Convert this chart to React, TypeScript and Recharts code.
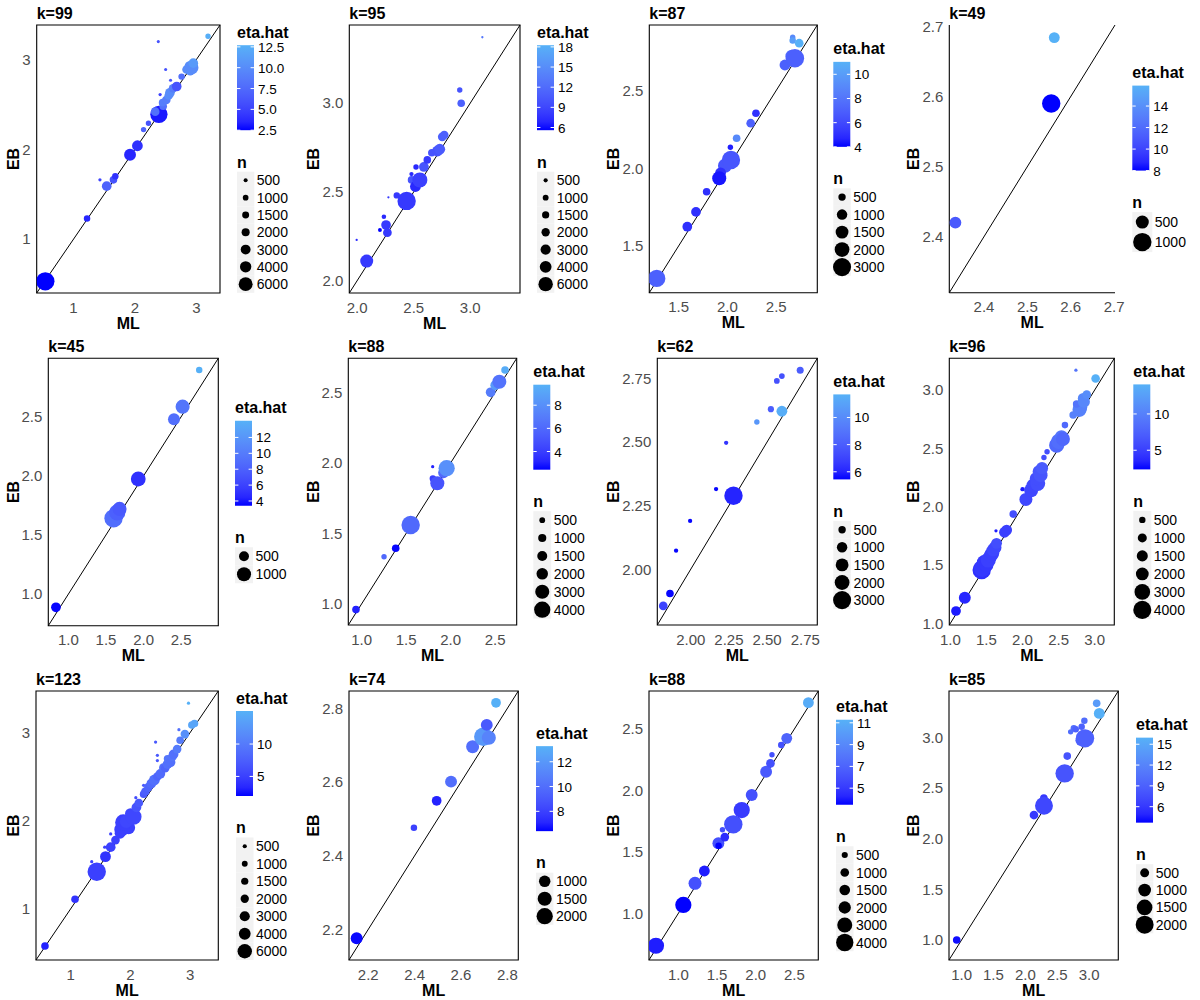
import React from "react";
import {
  ScatterChart,
  Scatter,
  XAxis,
  YAxis,
  ZAxis,
  Cell,
  ReferenceLine,
  ReferenceArea,
} from "recharts";

// [ML, EB, n, eta.hat]
type Pt = [number, number, number, number];

const ptsK99: Pt[] = [
  [0.54, 0.53, 10500, 2.5], [1.22, 1.23, 1300, 3.5], [1.43, 1.66, 330, 5],
  [1.54, 1.59, 2900, 7], [1.65, 1.66, 1800, 6], [1.68, 1.7, 1300, 4],
  [1.92, 1.94, 4400, 3.5], [2.04, 2.04, 3600, 4], [2.14, 2.22, 900, 7],
  [2.22, 2.29, 900, 6], [2.39, 2.39, 9300, 3], [2.33, 2.42, 2300, 8],
  [2.41, 2.61, 330, 5], [2.38, 3.2, 300, 6], [2.5, 2.89, 300, 6],
  [2.58, 2.77, 300, 6], [2.46, 2.48, 1800, 8], [2.45, 2.52, 1800, 9],
  [2.51, 2.55, 2300, 9], [2.55, 2.6, 2300, 10], [2.57, 2.63, 2900, 10],
  [2.62, 2.68, 2300, 9], [2.68, 2.7, 2900, 6], [2.76, 2.81, 1300, 8],
  [2.84, 2.89, 2300, 10], [2.88, 2.93, 2300, 10.5], [2.9, 2.87, 2300, 10],
  [2.92, 2.91, 6100, 10], [2.95, 2.96, 2900, 11], [3.19, 3.26, 900, 12.5],
];
const ptsK95: Pt[] = [
  [2.084, 2.11, 4900, 8], [1.995, 2.229, 150, 7], [2.201, 2.285, 450, 5.6],
  [2.236, 2.36, 600, 7], [2.255, 2.313, 2700, 8], [2.267, 2.27, 2200, 8],
  [2.276, 2.469, 150, 8], [2.35, 2.48, 1200, 8], [2.437, 2.449, 9800, 8],
  [2.481, 2.567, 1700, 10], [2.48, 2.6, 540, 7], [2.52, 2.64, 850, 7],
  [2.515, 2.53, 3400, 7], [2.554, 2.567, 6600, 8.5], [2.59, 2.64, 2750, 10],
  [2.62, 2.68, 1660, 8], [2.66, 2.72, 1660, 10], [2.71, 2.73, 3400, 10],
  [2.73, 2.74, 3400, 10.5], [2.752, 2.81, 2170, 11], [2.77, 2.82, 2170, 11],
  [2.907, 3.074, 850, 10], [2.92, 2.999, 1660, 11], [3.107, 3.371, 150, 13],
];
const ptsK87: Pt[] = [
  [1.276, 1.292, 2750, 7], [1.589, 1.624, 870, 5], [1.678, 1.719, 870, 5],
  [1.787, 1.849, 530, 5], [1.975, 2.016, 1810, 6.5], [2.036, 2.053, 3100, 6.5],
  [1.93, 1.97, 1070, 5], [1.916, 1.935, 1810, 4.3], [2.03, 2.134, 270, 4.5],
  [2.094, 2.192, 530, 9], [2.238, 2.289, 690, 7], [2.292, 2.353, 530, 5],
  [2.589, 2.663, 1070, 7], [2.66, 2.72, 1540, 7.5], [2.691, 2.706, 3100, 7],
  [2.668, 2.841, 270, 9], [2.668, 2.82, 390, 10], [2.735, 2.803, 690, 11],
];
const ptsK49: Pt[] = [
  [2.334, 2.42, 420, 11], [2.555, 2.59, 1000, 8], [2.562, 2.684, 350, 15.9],
];
const ptsK45: Pt[] = [
  [0.834, 0.888, 480, 3.5], [1.6, 1.64, 1710, 9], [1.65, 1.69, 1330, 8],
  [1.68, 1.72, 1000, 7.5], [1.929, 1.973, 1100, 5], [2.404, 2.478, 720, 9],
  [2.519, 2.585, 1000, 9.5], [2.74, 2.895, 210, 14],
];
const ptsK88a: Pt[] = [
  [0.937, 0.96, 870, 3], [1.252, 1.335, 445, 6], [1.383, 1.395, 870, 2.5],
  [1.551, 1.56, 5140, 6], [1.798, 1.973, 160, 3], [1.8, 1.89, 640, 4],
  [1.85, 1.855, 3000, 5], [1.92, 1.93, 1780, 6], [1.955, 1.962, 4000, 8],
  [2.449, 2.5, 1440, 7], [2.5, 2.55, 1440, 8.5], [2.546, 2.575, 3000, 6.5],
  [2.61, 2.658, 870, 9.5],
];
const ptsK62: Pt[] = [
  [1.82, 1.856, 690, 7], [1.864, 1.905, 530, 5.5], [1.904, 2.073, 170, 5.5],
  [1.996, 2.19, 170, 5.5], [2.166, 2.315, 170, 5.5], [2.28, 2.289, 3100, 6],
  [2.232, 2.497, 170, 6.5], [2.433, 2.579, 270, 10.5], [2.525, 2.629, 350, 8],
  [2.597, 2.621, 1070, 11.5], [2.564, 2.74, 300, 7.5], [2.597, 2.759, 300, 7.5],
  [2.717, 2.782, 450, 8],
];
const ptsK96: Pt[] = [
  [1.078, 1.105, 1160, 3], [1.2, 1.219, 1740, 3.5], [1.434, 1.456, 4150, 4],
  [1.44, 1.47, 3500, 4.5], [1.47, 1.52, 2800, 4.5], [1.5, 1.5, 2400, 4.5],
  [1.525, 1.542, 2810, 5], [1.56, 1.58, 2430, 5], [1.58, 1.6, 2400, 5],
  [1.594, 1.628, 2070, 5.5], [1.62, 1.65, 2000, 5.5], [1.64, 1.685, 1440, 6],
  [1.632, 1.793, 130, 3], [1.75, 1.78, 1440, 5], [1.78, 1.799, 1440, 5],
  [1.871, 1.936, 700, 6], [2.0, 2.15, 230, 3], [2.047, 2.062, 2070, 5.5],
  [2.12, 2.14, 2400, 5.5], [2.15, 2.18, 2430, 5.5], [2.21, 2.2, 2810, 6],
  [2.19, 2.24, 2070, 6], [2.23, 2.3, 2070, 6.5], [2.25, 2.27, 2400, 6.5],
  [2.27, 2.33, 1800, 7], [2.297, 2.422, 360, 6], [2.34, 2.47, 360, 6],
  [2.473, 2.527, 2810, 8], [2.5, 2.56, 2800, 8.5], [2.54, 2.6, 2070, 9],
  [2.56, 2.58, 2400, 8], [2.588, 2.699, 520, 8], [2.702, 2.785, 700, 10],
  [2.79, 2.83, 2430, 10], [2.8, 2.85, 2400, 10], [2.75, 2.88, 700, 9],
  [2.841, 2.928, 1440, 10.5], [2.85, 2.9, 1800, 10.5], [2.89, 2.96, 920, 11],
  [2.74, 3.17, 130, 9], [3.013, 3.099, 920, 14],
];
const ptsK123: Pt[] = [
  [0.572, 0.581, 1660, 3], [1.074, 1.109, 1660, 4], [1.437, 1.422, 9800, 5],
  [1.353, 1.535, 300, 5], [1.583, 1.592, 3390, 4], [1.67, 1.7, 2750, 5],
  [1.57, 1.7, 300, 5], [1.67, 1.85, 300, 5], [1.75, 1.78, 2170, 5],
  [1.827, 1.857, 3390, 5], [1.85, 1.9, 6000, 5], [1.97, 1.92, 4880, 5],
  [1.88, 1.98, 7600, 5], [1.93, 1.99, 4800, 5.5], [2.0, 2.08, 3390, 5.5],
  [2.05, 2.045, 7600, 5.5], [2.1, 2.15, 2750, 6.5], [2.09, 2.26, 300, 6],
  [2.14, 2.2, 2170, 7], [2.22, 2.3, 1660, 7], [2.25, 2.33, 2170, 7.5],
  [2.22, 2.4, 300, 7], [2.3, 2.38, 2170, 8], [2.35, 2.42, 2750, 8.5],
  [2.4, 2.46, 3390, 9], [2.45, 2.5, 2170, 8], [2.5, 2.53, 2750, 8.5],
  [2.55, 2.6, 2170, 9], [2.58, 2.593, 2170, 8], [2.62, 2.64, 2750, 9],
  [2.62, 2.7, 1660, 9.5], [2.67, 2.66, 2750, 9], [2.7, 2.72, 2170, 9.5],
  [2.72, 2.75, 2750, 9], [2.78, 2.81, 2170, 10], [2.83, 2.91, 1660, 10],
  [2.91, 2.98, 2170, 12], [3.026, 3.083, 1660, 14], [3.07, 3.1, 1660, 14],
  [2.42, 2.89, 300, 7], [2.45, 2.74, 300, 7], [2.45, 2.68, 300, 7],
  [2.81, 3.03, 300, 9], [2.97, 3.33, 300, 15],
];
const ptsK74: Pt[] = [
  [2.15, 2.176, 1080, 6.5], [2.397, 2.476, 320, 8], [2.495, 2.549, 720, 7],
  [2.557, 2.601, 1080, 10], [2.65, 2.696, 1280, 10], [2.696, 2.723, 2570, 12],
  [2.72, 2.72, 1500, 11], [2.711, 2.755, 1080, 9], [2.751, 2.815, 720, 13.2],
];
const ptsK88b: Pt[] = [
  [0.71, 0.736, 3500, 4], [1.064, 1.068, 3500, 3.5], [1.215, 1.244, 2240, 6],
  [1.336, 1.344, 1560, 4], [1.517, 1.57, 1880, 6], [1.57, 1.68, 390, 6],
  [1.6, 1.62, 1000, 4.5], [1.52, 1.55, 560, 3.5], [1.71, 1.724, 4500, 6],
  [1.819, 1.84, 3500, 5], [1.948, 1.963, 1880, 6], [2.134, 2.152, 1880, 6.5],
  [2.19, 2.22, 1000, 6], [2.21, 2.29, 390, 6], [2.33, 2.37, 560, 6],
  [2.401, 2.424, 1560, 7], [2.681, 2.714, 1560, 11],
];
const ptsK85: Pt[] = [
  [0.924, 1.0, 360, 4], [2.135, 2.233, 465, 6], [2.29, 2.4, 360, 6],
  [2.292, 2.325, 2000, 7], [2.616, 2.644, 2100, 8], [2.657, 2.815, 360, 8],
  [2.71, 3.054, 180, 10], [2.76, 3.09, 260, 10], [2.79, 3.08, 260, 9],
  [2.883, 3.104, 260, 9], [2.925, 3.163, 260, 10], [2.87, 2.97, 730, 9],
  [2.935, 2.99, 2100, 9], [3.118, 3.335, 360, 14], [3.159, 3.236, 730, 15.9],
];

// axis tick labels
const ticksInt = ["1", "2", "3"];
const ticksK95 = ["2.0", "2.5", "3.0"];
const ticksK87 = ["1.5", "2.0", "2.5"];
const ticksK49 = ["2.4", "2.5", "2.6", "2.7"];
const ticksHalf = ["1.0", "1.5", "2.0", "2.5"];
const ticksK62 = ["2.00", "2.25", "2.50", "2.75"];
const ticksWide = ["1.0", "1.5", "2.0", "2.5", "3.0"];
const ticksK74 = ["2.2", "2.4", "2.6", "2.8"];

// eta.hat colour bar labels
const etaTicksK99 = ["2.5", "5.0", "7.5", "10.0", "12.5"];
const etaTicksK95 = ["6", "9", "12", "15", "18"];
const etaTicksK87 = ["4", "6", "8", "10"];
const etaTicksK49 = ["8", "10", "12", "14"];
const etaTicksK45 = ["4", "6", "8", "10", "12"];
const etaTicksK88a = ["4", "6", "8"];
const etaTicksK62 = ["6", "8", "10"];
const etaTicks5 = ["5", "10"];
const etaTicksK74 = ["8", "10", "12"];
const etaTicksK88b = ["5", "7", "9", "11"];
const etaTicksK85 = ["6", "9", "12", "15"];

// n legend breaks
const n7 = [500, 1000, 1500, 2000, 3000, 4000, 6000];
const n6 = [500, 1000, 1500, 2000, 3000, 4000];
const n5 = [500, 1000, 1500, 2000, 3000];
const n4 = [500, 1000, 1500, 2000];
const n3 = [1000, 1500, 2000];
const n2 = [500, 1000];

const FONT = '"Liberation Sans", Arial, Helvetica, sans-serif';

// colour ramp blue -> #56B1F7, interpolated in Lab like ggplot
const lin = (c: number) => {
  c /= 255;
  return c <= 0.04045 ? c / 12.92 : Math.pow((c + 0.055) / 1.055, 2.4);
};
const gam = (c: number) => {
  const v = c <= 0.0031308 ? 12.92 * c : 1.055 * Math.pow(c, 1 / 2.4) - 0.055;
  return Math.round(Math.min(1, Math.max(0, v)) * 255);
};
const fl = (t: number) => (t > 0.008856 ? Math.cbrt(t) : 7.787 * t + 16 / 116);
const fi = (t: number) => (t > 0.206893 ? t * t * t : (t - 16 / 116) / 7.787);
const toLab = ([r, g, b]: number[]) => {
  const R = lin(r), G = lin(g), B = lin(b);
  const x = (0.4124 * R + 0.3576 * G + 0.1805 * B) / 0.95047;
  const y = 0.2126 * R + 0.7152 * G + 0.0722 * B;
  const z = (0.0193 * R + 0.1192 * G + 0.9505 * B) / 1.08883;
  return [116 * fl(y) - 16, 500 * (fl(x) - fl(y)), 200 * (fl(y) - fl(z))];
};
const fromLab = ([L, a, b]: number[]) => {
  const fy = (L + 16) / 116;
  const x = fi(fy + a / 500) * 0.95047, y = fi(fy), z = fi(fy - b / 200) * 1.08883;
  const R = 3.2406 * x - 1.5372 * y - 0.4986 * z;
  const G = -0.9689 * x + 1.8758 * y + 0.0415 * z;
  const B = 0.0557 * x - 0.204 * y + 1.057 * z;
  return `rgb(${gam(R)},${gam(G)},${gam(B)})`;
};
const LOW = toLab([0, 0, 255]);
const HIGH = toLab([0x56, 0xb1, 0xf7]);
const ramp = (t: number) => {
  const k = Math.min(1, Math.max(0, t));
  return fromLab(LOW.map((v, i) => v + (HIGH[i] - v) * k));
};

type PanelCfg = {
  title: string;
  ox: number;
  oy: number;
  box: { l: number; r: number; t: number; b: number };
  legendLeft: number;
  lo: number;
  hi: number;
  ticks: string[];
  pts: Pt[];
  eta: [number, number];
  etaTicks: string[];
  nBreaks: number[];
  keySize: number;
  closed: boolean;
};

const panels: PanelCfg[] = [
  { title: "k=99", ox: 0, oy: 0, box: { l: 36.7, r: 220, t: 25, b: 293 }, legendLeft: 237, lo: 0.4, hi: 3.385, ticks: ticksInt, pts: ptsK99, eta: [2.5, 12.7], etaTicks: etaTicksK99, nBreaks: n7, keySize: 17.3, closed: true },
  { title: "k=95", ox: 300, oy: 0, box: { l: 49.3, r: 220, t: 25, b: 293 }, legendLeft: 237, lo: 1.93, hi: 3.44, ticks: ticksK95, pts: ptsK95, eta: [5.6, 18.25], etaTicks: etaTicksK95, nBreaks: n7, keySize: 17.3, closed: true },
  { title: "k=87", ox: 600, oy: 0, box: { l: 49.3, r: 217.3, t: 25, b: 292.7 }, legendLeft: 233.3, lo: 1.2, hi: 2.92, ticks: ticksK87, pts: ptsK87, eta: [4, 11.03], etaTicks: etaTicksK87, nBreaks: n5, keySize: 17.5, closed: true },
  { title: "k=49", ox: 900, oy: 0, box: { l: 49.3, r: 215, t: 25, b: 292.7 }, legendLeft: 232.3, lo: 2.32, hi: 2.702, ticks: ticksK49, pts: ptsK49, eta: [8, 15.9], etaTicks: etaTicksK49, nBreaks: n2, keySize: 20, closed: false },
  { title: "k=45", ox: 0, oy: 330, box: { l: 48.3, r: 218.3, t: 28.3, b: 295.7 }, legendLeft: 235, lo: 0.732, hi: 2.994, ticks: ticksHalf, pts: ptsK45, eta: [3.4, 14.1], etaTicks: etaTicksK45, nBreaks: n2, keySize: 18, closed: true },
  { title: "k=88", ox: 300, oy: 330, box: { l: 48.3, r: 216.7, t: 28.3, b: 295 }, legendLeft: 233.3, lo: 0.851, hi: 2.741, ticks: ticksHalf, pts: ptsK88a, eta: [2.43, 9.77], etaTicks: etaTicksK88a, nBreaks: n6, keySize: 17.9, closed: true },
  { title: "k=62", ox: 600, oy: 330, box: { l: 57.3, r: 217.3, t: 28.3, b: 295 }, legendLeft: 233.3, lo: 1.781, hi: 2.829, ticks: ticksK62, pts: ptsK62, eta: [5.44, 11.7], etaTicks: etaTicksK62, nBreaks: n5, keySize: 17.6, closed: true },
  { title: "k=96", ox: 900, oy: 330, box: { l: 49.3, r: 214.3, t: 28.3, b: 295 }, legendLeft: 233.3, lo: 0.985, hi: 3.272, ticks: ticksWide, pts: ptsK96, eta: [2.36, 14.07], etaTicks: etaTicks5, nBreaks: n6, keySize: 18, closed: true },
  { title: "k=123", ox: 0, oy: 665, box: { l: 36, r: 218.3, t: 26, b: 295 }, legendLeft: 236, lo: 0.422, hi: 3.468, ticks: ticksInt, pts: ptsK123, eta: [1.98, 15.1], etaTicks: etaTicks5, nBreaks: n7, keySize: 17.5, closed: true },
  { title: "k=74", ox: 300, oy: 665, box: { l: 49, r: 218.3, t: 26, b: 295 }, legendLeft: 236, lo: 2.117, hi: 2.847, ticks: ticksK74, pts: ptsK74, eta: [6.4, 13.26], etaTicks: etaTicksK74, nBreaks: n3, keySize: 17.4, closed: true },
  { title: "k=88", ox: 600, oy: 665, box: { l: 49, r: 218.3, t: 26, b: 295 }, legendLeft: 236, lo: 0.62, hi: 2.809, ticks: ticksHalf, pts: ptsK88b, eta: [3.48, 11.28], etaTicks: etaTicksK88b, nBreaks: n6, keySize: 17.5, closed: true },
  { title: "k=85", ox: 900, oy: 665, box: { l: 49, r: 218.3, t: 26, b: 295 }, legendLeft: 236, lo: 0.803, hi: 3.457, ticks: ticksWide, pts: ptsK85, eta: [3.7, 15.95], etaTicks: etaTicksK85, nBreaks: n4, keySize: 17.3, closed: true },
];

const H = 335;
const MAX_R = 9.2;

function Panel({ p, idx }: { p: PanelCfg; idx: number }) {
  const rows = p.pts.map(([x, y, n, eta]) => ({ x, y, n, eta }));
  const nMax = Math.max(...rows.map((d) => d.n));
  const [eLo, eHi] = p.eta;
  const colorOf = (v: number) => ramp((v - eLo) / (eHi - eLo));
  const axisTicks = p.ticks.map(Number);
  const fmt = (v: number) => {
    const i = axisTicks.indexOf(v);
    return i >= 0 ? p.ticks[i] : String(v);
  };
  const { l, r, t, b } = p.box;
  const tickStyle = { fontSize: 15, fill: "#4D4D4D", fontFamily: FONT };
  const axisLine = p.closed ? false : { stroke: "#000", strokeWidth: 1.1 };

  // legend geometry
  const cy = (t + b) / 2 + 1;
  const legH = 144.5 + p.nBreaks.length * p.keySize;
  const T = cy - legH / 2;
  const L = p.legendLeft;
  const barTop = T + 18;
  const barH = 85;
  const etaY = (v: number) => barTop + ((eHi - v) / (eHi - eLo)) * barH;
  const dotR = (n: number) => MAX_R * Math.sqrt(n / nMax);
  const gid = `bar${idx}`;

  return (
    <div style={{ position: "absolute", left: p.ox, top: p.oy, width: 300, height: H }}>
      <ScatterChart width={r + 20} height={H} margin={{ top: t, right: 20, bottom: 0, left: 0 }}>
        <XAxis
          type="number"
          dataKey="x"
          domain={[p.lo, p.hi]}
          ticks={axisTicks}
          tickFormatter={fmt}
          allowDataOverflow
          interval={0}
          height={H - b}
          tickLine={false}
          tickSize={0}
          tickMargin={9}
          axisLine={axisLine}
          tick={tickStyle}
        />
        <YAxis
          type="number"
          dataKey="y"
          domain={[p.lo, p.hi]}
          ticks={axisTicks}
          tickFormatter={fmt}
          allowDataOverflow
          interval={0}
          width={l}
          tickLine={false}
          tickSize={0}
          tickMargin={6}
          axisLine={axisLine}
          tick={tickStyle}
        />
        <ZAxis type="number" dataKey="n" domain={[0, nMax]} range={[0, Math.PI * MAX_R * MAX_R]} />
        <Scatter data={rows} shape="circle" isAnimationActive={false}>
          {rows.map((d, i) => (
            <Cell key={i} fill={colorOf(d.eta)} />
          ))}
        </Scatter>
        <ReferenceLine
          segment={[{ x: p.lo, y: p.lo }, { x: p.hi, y: p.hi }]}
          stroke="#000"
          strokeWidth={1}
          ifOverflow="visible"
        />
        {p.closed && (
          <ReferenceArea
            x1={p.lo}
            x2={p.hi}
            y1={p.lo}
            y2={p.hi}
            fill="none"
            fillOpacity={0}
            stroke="#000"
            strokeWidth={1.1}
            ifOverflow="visible"
          />
        )}
      </ScatterChart>
      <svg
        width={300}
        height={H}
        style={{ position: "absolute", left: 0, top: 0, pointerEvents: "none", fontFamily: FONT }}
      >
        <defs>
          <linearGradient id={gid} x1="0" y1="0" x2="0" y2="1">
            {Array.from({ length: 11 }, (_, k) => (
              <stop key={k} offset={k / 10} stopColor={ramp(1 - k / 10)} />
            ))}
          </linearGradient>
        </defs>
        <text x={l} y={t - 6} fontSize={16} fontWeight="bold" fill="#000">
          {p.title}
        </text>
        <text x={(l + r) / 2} y={b + 35.5} fontSize={16} fontWeight="bold" textAnchor="middle" fill="#000">
          ML
        </text>
        <text
          transform={`translate(18.5, ${(t + b) / 2}) rotate(-90)`}
          fontSize={16}
          fontWeight="bold"
          textAnchor="middle"
          fill="#000"
        >
          EB
        </text>

        {/* eta.hat colour bar */}
        <text x={L} y={T + 10.5} fontSize={16} fontWeight="bold" fill="#000">
          eta.hat
        </text>
        <rect x={L} y={barTop} width={17} height={barH} fill={`url(#${gid})`} />
        {p.etaTicks.map((s) => {
          const y = etaY(parseFloat(s));
          return (
            <g key={s}>
              <line x1={L} x2={L + 3.4} y1={y} y2={y} stroke="#fff" strokeWidth={1} />
              <line x1={L + 13.6} x2={L + 17} y1={y} y2={y} stroke="#fff" strokeWidth={1} />
              <text x={L + 21} y={y + 5} fontSize={13.5} fill="#000">
                {s}
              </text>
            </g>
          );
        })}

        {/* n size legend */}
        <text x={L} y={T + 140.3} fontSize={16} fontWeight="bold" fill="#000">
          n
        </text>
        {p.nBreaks.map((nb, i) => {
          const ky = T + 144.5 + i * p.keySize;
          return (
            <g key={nb}>
              <rect x={L} y={ky} width={p.keySize} height={p.keySize} fill="#F2F2F2" />
              <circle cx={L + p.keySize / 2} cy={ky + p.keySize / 2} r={dotR(nb)} fill="#000" />
              <text x={L + p.keySize + 2.5} y={ky + p.keySize / 2 + 5} fontSize={14} fill="#000">
                {nb}
              </text>
            </g>
          );
        })}
      </svg>
    </div>
  );
}

export default function App() {
  return (
    <div
      style={{
        position: "absolute",
        left: 0,
        top: 0,
        width: 1200,
        height: 1000,
        background: "#fff",
        fontFamily: FONT,
      }}
    >
      {panels.map((p, i) => (
        <Panel key={i} p={p} idx={i} />
      ))}
    </div>
  );
}
